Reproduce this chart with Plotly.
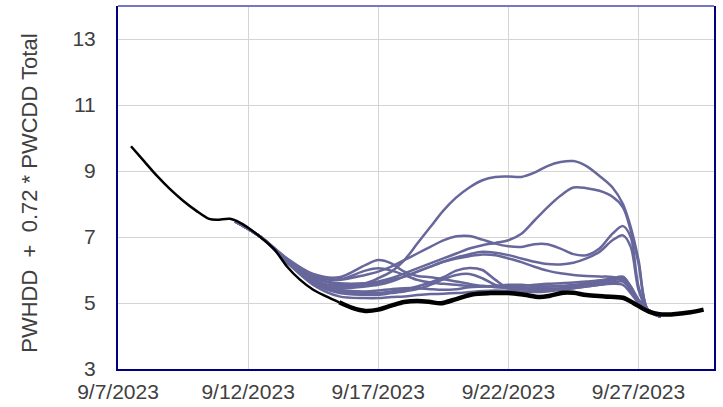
import pandas as pd
import plotly.graph_objects as go

BASE = pd.Timestamp("2023-09-07")

# Observed / analysis (thin black) – day offsets from 9/7/2023 and values
obs_days = [0.5, 1.0, 1.5, 2.0, 2.5, 3.0, 3.5, 3.8, 4.3, 4.7, 5.0, 5.5, 6.0, 6.5, 7.0, 7.5, 8.0, 8.5]
obs_vals = [9.75, 9.3, 8.85, 8.45, 8.1, 7.8, 7.55, 7.52, 7.55, 7.43, 7.28, 6.98, 6.63, 6.1, 5.7, 5.4, 5.2, 5.02]

# Main forecast (thick black)
fc_days = [8.5, 9.0, 9.5, 10.0, 10.5, 11.0, 11.5, 12.0, 12.4, 13.0, 13.6, 14.3, 15.0, 15.6, 16.2, 16.6,
           17.1, 17.5, 18.0, 18.7, 19.4, 19.8, 20.1, 20.4, 20.8, 21.2, 21.6, 22.0, 22.5]
fc_vals = [5.02, 4.85, 4.76, 4.8, 4.92, 5.03, 5.06, 5.03, 4.99, 5.12, 5.26, 5.3, 5.3, 5.25, 5.18, 5.22,
           5.31, 5.31, 5.24, 5.2, 5.16, 5.0, 4.86, 4.74, 4.66, 4.65, 4.68, 4.72, 4.8]

# Ensemble members (purple)
ens_days = [4.5, 5.5, 6.5, 7.5, 8.5, 9.5, 10.0, 10.5, 11.0, 11.5, 12.0, 12.5, 13.0, 13.5, 14.0,
            14.5, 15.0, 15.5, 16.0, 16.5, 17.0, 17.5, 18.0, 18.5, 19.0, 19.4, 19.7, 20.0, 20.35, 20.85]
member_01 = [7.47, 6.99, 6.32, 5.8, 5.55, 5.6, 5.75, 5.95, 6.3, 6.8, 7.3, 7.8, 8.2, 8.5, 8.72,
             8.82, 8.83, 8.82, 8.95, 9.15, 9.27, 9.3, 9.15, 8.85, 8.5, 8.0, 7.3, 6.3, 4.8, 4.58]
member_02 = [7.47, 6.99, 6.3, 5.75, 5.6, 5.6, 5.65, 5.75, 5.9, 6.05, 6.2, 6.35, 6.5, 6.65, 6.75,
             6.82, 6.9, 7.1, 7.5, 7.9, 8.25, 8.5, 8.48, 8.4, 8.22, 7.9, 7.2, 6.2, 4.8, 4.58]
member_03 = [7.47, 6.99, 6.3, 5.8, 5.7, 5.85, 5.95, 6.1, 6.3, 6.5, 6.7, 6.9, 7.02, 7.03, 6.92,
             6.8, 6.72, 6.7, 6.78, 6.78, 6.65, 6.48, 6.45, 6.65, 7.1, 7.33, 7.0, 5.5, 4.8, 4.58]
member_04 = [7.47, 6.99, 6.28, 5.7, 5.5, 5.55, 5.6, 5.7, 5.8, 5.95, 6.1, 6.25, 6.38, 6.48, 6.55,
             6.52, 6.45, 6.35, 6.25, 6.18, 6.17, 6.22, 6.35, 6.55, 6.9, 7.05, 6.7, 5.4, 4.8, 4.58]
member_05 = [7.47, 6.99, 6.27, 5.68, 5.45, 5.5, 5.55, 5.65, 5.8, 5.95, 6.1, 6.25, 6.35, 6.42, 6.47,
             6.45, 6.35, 6.24, 6.1, 5.98, 5.9, 5.85, 5.82, 5.8, 5.79, 5.7, 5.4, 5.05, 4.8, 4.58]
member_06 = [7.47, 6.99, 6.25, 5.62, 5.35, 5.3, 5.3, 5.35, 5.4, 5.5, 5.62, 5.78, 5.98, 6.06, 6.0,
             5.7, 5.45, 5.42, 5.42, 5.43, 5.45, 5.5, 5.55, 5.6, 5.68, 5.72, 5.4, 5.05, 4.8, 4.58]
member_07 = [7.47, 6.99, 6.24, 5.6, 5.3, 5.25, 5.25, 5.3, 5.35, 5.42, 5.55, 5.72, 5.85, 5.88, 5.75,
             5.55, 5.45, 5.45, 5.47, 5.5, 5.52, 5.55, 5.58, 5.62, 5.7, 5.78, 5.5, 5.1, 4.8, 4.58]
member_08 = [7.47, 6.99, 6.35, 5.88, 5.78, 6.15, 6.3, 6.2, 5.95, 5.82, 5.78, 5.72, 5.65, 5.58, 5.52,
             5.48, 5.45, 5.42, 5.4, 5.4, 5.42, 5.45, 5.5, 5.55, 5.62, 5.65, 5.4, 5.05, 4.8, 4.58]
member_09 = [7.47, 6.99, 6.33, 5.85, 5.72, 5.98, 6.05, 5.98, 5.85, 5.7, 5.62, 5.58, 5.55, 5.52, 5.5,
             5.5, 5.5, 5.52, 5.55, 5.58, 5.6, 5.62, 5.65, 5.68, 5.72, 5.75, 5.45, 5.08, 4.8, 4.58]
member_10 = [7.47, 6.99, 6.22, 5.55, 5.2, 5.15, 5.15, 5.18, 5.2, 5.24, 5.27, 5.28, 5.3, 5.33, 5.36,
             5.38, 5.37, 5.35, 5.33, 5.35, 5.4, 5.45, 5.5, 5.55, 5.58, 5.55, 5.3, 5.0, 4.8, 4.58]
member_11 = [7.47, 6.99, 6.26, 5.65, 5.4, 5.35, 5.38, 5.42, 5.45, 5.45, 5.42, 5.4, 5.42, 5.48, 5.5,
             5.52, 5.55, 5.55, 5.52, 5.5, 5.5, 5.52, 5.6, 5.68, 5.75, 5.8, 5.5, 5.1, 4.8, 4.58]
members = [member_01, member_02, member_03, member_04, member_05, member_06,
           member_07, member_08, member_09, member_10, member_11]

# Axis ticks
x_tick_dates = ["2023-09-07", "2023-09-12", "2023-09-17", "2023-09-22", "2023-09-27"]
x_tick_labels = ["9/7/2023", "9/12/2023", "9/17/2023", "9/22/2023", "9/27/2023"]
y_tick_vals = [3, 5, 7, 9, 11, 13]
y_title = "PWHDD  +  0.72 * PWCDD Total"


def to_dates(days):
    return [BASE + pd.Timedelta(days=d) for d in days]


FONT = "Arial, Liberation Sans, sans-serif"
TXT = "#404040"
PURPLE = "#67679b"

fig = go.Figure()
for m in members:
    fig.add_trace(go.Scatter(x=to_dates(ens_days), y=m, mode="lines",
                             line=dict(color=PURPLE, width=2.5, shape="spline", smoothing=0.9),
                             hoverinfo="skip", showlegend=False))
fig.add_trace(go.Scatter(x=to_dates(obs_days), y=obs_vals, mode="lines",
                         line=dict(color="black", width=2.5, shape="spline", smoothing=0.9),
                         showlegend=False))
fig.add_trace(go.Scatter(x=to_dates(fc_days), y=fc_vals, mode="lines",
                         line=dict(color="black", width=4.5, shape="spline", smoothing=0.9),
                         showlegend=False))

fig.update_layout(
    width=723, height=407,
    margin=dict(l=118, r=9, t=6, b=38, autoexpand=False),
    paper_bgcolor="white", plot_bgcolor="white",
    font=dict(family=FONT, size=21, color=TXT),
    showlegend=False,
)
fig.update_xaxes(
    type="date",
    range=[BASE, BASE + pd.Timedelta(days=22.9)],
    tickvals=[pd.Timestamp(d) for d in x_tick_dates],
    ticktext=x_tick_labels,
    showgrid=True, gridcolor="#d4d4d4", gridwidth=1,
    showline=True, linecolor="#000080", linewidth=2,
    ticks="", ticklabelstandoff=3, automargin=False,
    tickfont=dict(family=FONT, size=21, color=TXT),
    zeroline=False,
)
fig.update_yaxes(
    range=[3, 14],
    tickvals=y_tick_vals,
    showgrid=True, gridcolor="#d4d4d4", gridwidth=1,
    showline=True, linecolor="#000080", linewidth=2, mirror=True,
    ticks="", ticklabelstandoff=16, automargin=False,
    tickfont=dict(family=FONT, size=21, color=TXT),
    zeroline=False,
)
fig.add_shape(type="line", xref="paper", yref="paper", x0=0, x1=1, y0=1, y1=1,
              line=dict(color="#7676c4", width=2))
fig.add_annotation(text=y_title, xref="paper", yref="paper", x=-0.148, y=0.485,
                   textangle=-90, showarrow=False, xanchor="center", yanchor="middle",
                   font=dict(family=FONT, size=22, color=TXT))

fig.write_html(
    "out.html",
    config={"displayModeBar": False},
    post_script="document.body.style.margin='0';document.body.style.padding='0';"
                "document.documentElement.style.overflow='hidden';",
)
